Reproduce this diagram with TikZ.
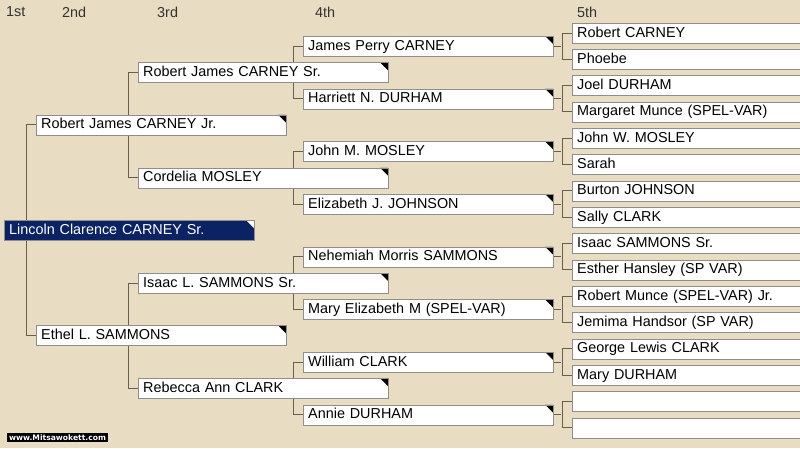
\documentclass[tikz,border=0pt]{standalone}
\usepackage{fontspec}
\setmainfont{Liberation Sans}
\newfontfamily\wmfont{DejaVu Sans}
\usepackage{tikz}

\definecolor{paper}{HTML}{E8DCC3}
\definecolor{linkcol}{HTML}{6A5E4C}
\definecolor{boxline}{HTML}{8E8E8E}
\definecolor{navy}{HTML}{0B2265}
\definecolor{hdrcol}{HTML}{333333}

\pgfdeclarelayer{bg}
\pgfsetlayers{bg,main}

\tikzset{
  person/.style={draw=boxline, fill=white, anchor=west, minimum height=20pt,
    text width=240pt, inner xsep=5pt, inner ysep=0pt, text height=11pt,
    text depth=3pt, align=left, font=\fontsize{14.4}{16}\selectfont},
  anc/.style={path picture={\fill[#1] (path picture bounding box.north east)
    -- ++(-8pt,0pt) -- ++(8pt,-8pt) -- cycle;}},
  anc/.default=black,
  root/.style={person, fill=navy, text=white, draw=boxline, anc=white},
  hdr/.style={anchor=west, inner sep=0pt, text=hdrcol, font=\fontsize{14.4}{16}\selectfont},
  link/.style={draw=linkcol, line width=1pt}
}

\begin{document}
\begin{tikzpicture}[x=1pt,y=-1pt]
  \clip (0,0) rectangle (800,448);
  \begin{pgfonlayer}{bg}
    \fill[paper] (0,0) rectangle (800,448);
  \end{pgfonlayer}

  % generation headers
  \node[hdr] (h1) at (6,12) {1st};
  \node[hdr] (h2) at (62,12) {2nd};
  \node[hdr] (h3) at (157,12) {3rd};
  \node[hdr] (h4) at (315,12) {4th};
  \node[hdr] (h5) at (577,12) {5th};

  % 5th generation
  \foreach \nm [count=\i from 0] in {{Robert CARNEY},{Phoebe},{Joel DURHAM},
      {Margaret Munce (SPEL-VAR)},{John W. MOSLEY},{Sarah},{Burton JOHNSON},
      {Sally CLARK},{Isaac SAMMONS Sr.},{Esther Hansley (SP VAR)},
      {Robert Munce (SPEL-VAR) Jr.},{Jemima Handsor (SP VAR)},
      {George Lewis CLARK},{Mary DURHAM},{},{}}
    \node[person] (e\i) at (572,{33+26.33*\i}) {\nm};

  % 4th generation
  \foreach \nm [count=\i from 0] in {{James Perry CARNEY},{Harriett N. DURHAM},
      {John M. MOSLEY},{Elizabeth J. JOHNSON},{Nehemiah Morris SAMMONS},
      {Mary Elizabeth M (SPEL-VAR)},{William CLARK},{Annie DURHAM}}
    \node[person, anc] (d\i) at (303,{46.2+52.66*\i}) {\nm};

  % 3rd generation
  \foreach \nm [count=\i from 0] in {{Robert James CARNEY Sr.},{Cordelia MOSLEY},
      {Isaac L. SAMMONS Sr.},{Rebecca Ann CLARK}}
    \node[person, anc] (c\i) at (138,{72.5+105.3*\i}) {\nm};

  % 2nd and 1st generation
  \node[person, anc] (b0) at (36,124.9) {Robert James CARNEY Jr.};
  \node[person, anc] (b1) at (36,335.5) {Ethel L. SAMMONS};
  \node[root] (a0) at (4,230.2) {Lincoln Clarence CARNEY Sr.};

  \node[fill=black, text=white, inner xsep=2pt, inner ysep=1.5pt,
    font=\wmfont\bfseries\fontsize{7.6}{8}\selectfont] (wm) at (57.5,437.5)
    {www.Mitsawokett.com};

  % connectors
  \begin{pgfonlayer}{bg}
    \draw[link] (b0.west) -- ++(-10,0) |- (b1.west);
    \foreach \i [evaluate=\i as \a using int(2*\i),
                 evaluate=\i as \b using int(2*\i+1)] in {0,1}
      \draw[link] (c\a.west) -- ++(-10,0) |- (c\b.west);
    \foreach \i [evaluate=\i as \a using int(2*\i),
                 evaluate=\i as \b using int(2*\i+1)] in {0,...,3}
      \draw[link] (d\a.west) -- ++(-10,0) |- (d\b.west);
    \foreach \i [evaluate=\i as \a using int(2*\i),
                 evaluate=\i as \b using int(2*\i+1)] in {0,...,7}{
      \draw[link] (e\a.west) -- ++(-10,0) |- (e\b.west);
      \draw[link] (d\i.east) -- ++(8,0);
    }
  \end{pgfonlayer}
\end{tikzpicture}
\end{document}
